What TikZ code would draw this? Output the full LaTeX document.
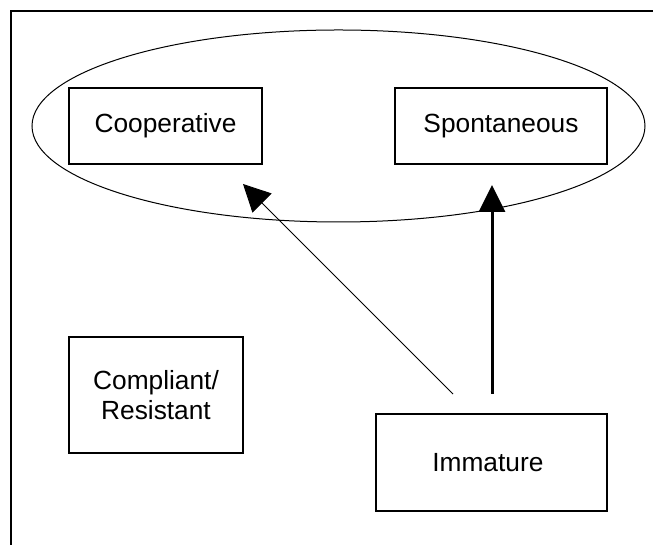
\documentclass[tikz,border=0pt]{standalone}
\usepackage{fontspec}
\setmainfont{Liberation Sans}
\usetikzlibrary{arrows.meta}

\begin{document}
\begin{tikzpicture}[x=1pt, y=1pt]
	\useasboundingbox (0,0) rectangle (653,545);
	% frame, open at right and bottom
	\draw[line width=1.3pt] (11,0) -- (11,534) -- (653,534);
	\draw[line width=1pt] (338.5,419) ellipse [x radius=306.5, y radius=96];
	\foreach \x/\y/\w/\h/\alph/\name in {
		165.5/419/193/76/coop/Cooperative,
		501/419/212/76/spon/Spontaneous,
		156/150/174/116/comp/{Compliant/\\Resistant},
		491.5/82.5/231/97/imm/Immature
	}{
		\node[draw, line width=1.3pt, align=center, inner sep=0pt, minimum width=\w pt, minimum height=\h pt, font=\fontsize{26.3}{30}\selectfont] (\alph) at (\x,\y) {\name};
	}
	\coordinate (s1) at (453,151);
	\coordinate (t1) at (243,361);
	\coordinate (s2) at (492,151);
	\coordinate (t2) at (492,360);
	\draw[-{Triangle[length=27pt,width=27pt]}, line width=0.9pt] (s1) -- (t1);
	\draw[-{Triangle[length=27pt,width=26pt]}, line width=3pt] (s2) -- (t2);
\end{tikzpicture}
\end{document}
